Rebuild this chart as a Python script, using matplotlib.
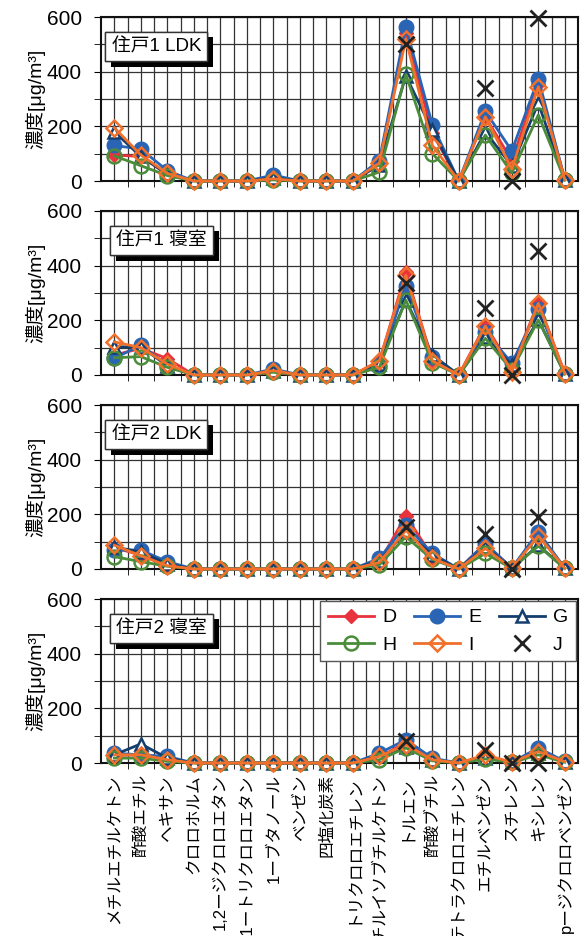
import numpy as np
import matplotlib
matplotlib.use("Agg")
import matplotlib.pyplot as plt
import matplotlib.patheffects as pe
from matplotlib.ticker import MultipleLocator

plt.rcParams['font.family'] = ['Liberation Sans', 'Noto Sans CJK JP', 'DejaVu Sans']

nan = np.nan

# 化合物
compounds = ['メチルエチルケトン', '酢酸エチル', 'ヘキサン', 'クロロホルム',
             '1,2ージクロロエタン', '1,1,1ートリクロロエタン', '1ーブタノール',
             'ベンゼン', '四塩化炭素', 'トリクロロエチレン', 'メチルイソブチルケトン',
             'トルエン', '酢酸ブチル', 'テトラクロロエチレン', 'エチルベンゼン',
             'スチレン', 'キシレン', 'pージクロロベンゼン']

panel_titles = ['住戸1 LDK', '住戸1 寝室', '住戸2 LDK', '住戸2 寝室']

# 住戸1 LDK
h1_ldk_D = [95, 90, 25, 0, 0, 0, 10, 0, 0, 0, 60, 540, 175, 0, 235, 75, 355, 5]
h1_ldk_E = [130, 117, 38, 0, 0, 0, 22, 0, 0, 0, 75, 565, 205, 0, 255, 110, 375, 5]
h1_ldk_G = [180, 90, 25, 0, 0, 0, 12, 0, 0, 0, 60, 385, 185, 0, 180, 55, 285, 3]
h1_ldk_H = [92, 56, 20, 0, 0, 0, 4, 0, 0, 0, 33, 390, 100, 0, 168, 30, 242, 3]
h1_ldk_I = [195, 95, 28, 0, 0, 0, 8, 0, 0, 0, 66, 520, 130, 0, 235, 44, 345, 5]
h1_ldk_J = [nan] * 11 + [500, nan, nan, 340, 0, 596, nan]

# 住戸1 寝室
h1_bed_D = [73, 97, 60, 0, 0, 0, 8, 0, 0, 0, 50, 375, 55, 0, 183, 24, 265, 5]
h1_bed_E = [61, 109, 36, 0, 0, 0, 22, 0, 0, 0, 37, 326, 65, 0, 158, 43, 243, 5]
h1_bed_G = [103, 103, 34, 0, 0, 0, 14, 0, 0, 0, 40, 274, 73, 0, 138, 37, 203, 3]
h1_bed_H = [63, 67, 28, 0, 0, 0, 10, 0, 0, 0, 28, 274, 45, 0, 134, 18, 201, 3]
h1_bed_I = [121, 100, 40, 0, 0, 0, 16, 0, 0, 0, 52, 365, 52, 0, 179, 12, 262, 5]
h1_bed_J = [nan] * 11 + [335, nan, nan, 246, 0, 453, nan]

# 住戸2 LDK
h2_ldk_D = [78, 51, 15, 0, 0, 0, 0, 0, 0, 0, 25, 195, 45, 0, 93, 3, 125, 3]
h2_ldk_E = [69, 69, 27, 0, 0, 0, 0, 0, 0, 0, 39, 160, 57, 0, 93, 3, 136, 3]
h2_ldk_G = [80, 63, 18, 0, 0, 0, 0, 0, 0, 0, 30, 136, 51, 0, 81, 2, 87, 2]
h2_ldk_H = [45, 27, 10, 0, 0, 0, 0, 0, 0, 0, 15, 118, 35, 0, 57, 2, 84, 2]
h2_ldk_I = [87, 48, 12, 0, 0, 0, 0, 0, 0, 0, 24, 142, 39, 0, 75, 2, 121, 3]
h2_ldk_J = [nan] * 11 + [154, nan, nan, 127, 0, 190, nan]

# 住戸2 寝室
h2_bed_D = [28, 30, 15, 0, 0, 0, 0, 0, 0, 0, 22, 75, 12, 0, 24, 3, 40, 5]
h2_bed_E = [36, 30, 24, 0, 0, 0, 0, 0, 0, 0, 36, 85, 18, 0, 18, 3, 55, 6]
h2_bed_G = [30, 70, 18, 0, 0, 0, 0, 0, 0, 0, 25, 60, 10, 0, 20, 2, 35, 3]
h2_bed_H = [18, 18, 6, 0, 0, 0, 0, 0, 0, 0, 12, 55, 8, 0, 15, 2, 30, 3]
h2_bed_I = [30, 30, 12, 0, 0, 0, 0, 0, 0, 0, 24, 67, 12, 0, 30, 3, 42, 5]
h2_bed_J = [nan] * 11 + [79, nan, nan, 46, 0, 0, nan]

panels = [
    [h1_ldk_D, h1_ldk_E, h1_ldk_G, h1_ldk_H, h1_ldk_I, h1_ldk_J],
    [h1_bed_D, h1_bed_E, h1_bed_G, h1_bed_H, h1_bed_I, h1_bed_J],
    [h2_ldk_D, h2_ldk_E, h2_ldk_G, h2_ldk_H, h2_ldk_I, h2_ldk_J],
    [h2_bed_D, h2_bed_E, h2_bed_G, h2_bed_H, h2_bed_I, h2_bed_J],
]

names = ['D', 'E', 'G', 'H', 'I', 'J']
styles = {
    'D': dict(color='#e8323c', marker='D', ms=7, mfc='#e8323c', mec='#e8323c'),
    'E': dict(color='#2a64b4', marker='o', ms=10.5, mfc='#2a64b4', mec='#2a64b4'),
    'G': dict(color='#143e6e', marker='^', ms=9, mfc='white', mec='#143e6e', mew=1.8),
    'H': dict(color='#4a8c3a', marker='o', ms=10, mfc='none', mec='#4a8c3a', mew=1.8),
    'I': dict(color='#f0702c', marker='D', ms=8, mfc='none', mec='#f0702c', mew=1.8),
    'J': dict(color='#222222', marker='x', ms=11, mew=2.0, ls='none'),
}

fig = plt.figure(figsize=(5.81, 9.36), dpi=100)
x = np.arange(len(compounds))

left, width, height = 0.174, 0.821, 0.1752
bottoms = [0.8066, 0.5994, 0.3921, 0.1848]

handles = {}
for k, (data, title, b) in enumerate(zip(panels, panel_titles, bottoms)):
    ax = fig.add_axes([left, b, width, height])
    for name, vals in zip(names, data):
        st = dict(styles[name])
        ls = st.pop('ls', '-')
        line, = ax.plot(x, vals, ls=ls, lw=2, clip_on=False, zorder=3, **st)
        handles[name] = line

    ax.set_xlim(-0.5, len(compounds) - 0.5)
    ax.set_ylim(0, 600)
    ax.yaxis.set_major_locator(MultipleLocator(200))
    ax.yaxis.set_minor_locator(MultipleLocator(100))
    ax.set_xticks(x)
    ax.set_xticks(x[:-1] + 0.5, minor=True)
    ax.grid(True, which='both', color='#333333', lw=0.9)
    ax.set_axisbelow(True)
    ax.tick_params(axis='x', which='major', length=0, pad=8)
    ax.tick_params(axis='x', which='minor', length=4, direction='out')
    ax.tick_params(axis='y', which='both', length=5, direction='out', labelsize=15, pad=9)
    for s in ax.spines.values():
        s.set_linewidth(1.5)
        s.set_color('#111111')
    if k == 3:
        ax.set_xticklabels(compounds, rotation=90, fontsize=12, va='top', ha='center')
    else:
        ax.set_xticklabels([])
    ax.set_ylabel('濃度[μg/m³]', fontsize=14, labelpad=1)

    t = ax.text(0.022 if k % 2 == 0 else 0.032, 0.82, title, transform=ax.transAxes,
                fontsize=13.5, ha='left', va='center', zorder=6,
                bbox=dict(boxstyle='square,pad=0.33', fc='white', ec='#333333', lw=1))
    t.get_bbox_patch().set_path_effects([
        pe.withSimplePatchShadow(offset=(4, -4), shadow_rgbFace='black', alpha=1),
        pe.Normal()])

    if k == 3:
        order = ['D', 'H', 'E', 'I', 'G', 'J']
        leg = ax.legend([handles[n] for n in order], order, ncol=3, loc='upper right',
                        bbox_to_anchor=(1.0, 1.0), borderaxespad=0.1, fontsize=14,
                        handlelength=2.4, columnspacing=0.9, handletextpad=0.4,
                        fancybox=False, framealpha=1, edgecolor='#555555')
        leg.set_zorder(10)

fig.savefig('out.png', dpi=100)
